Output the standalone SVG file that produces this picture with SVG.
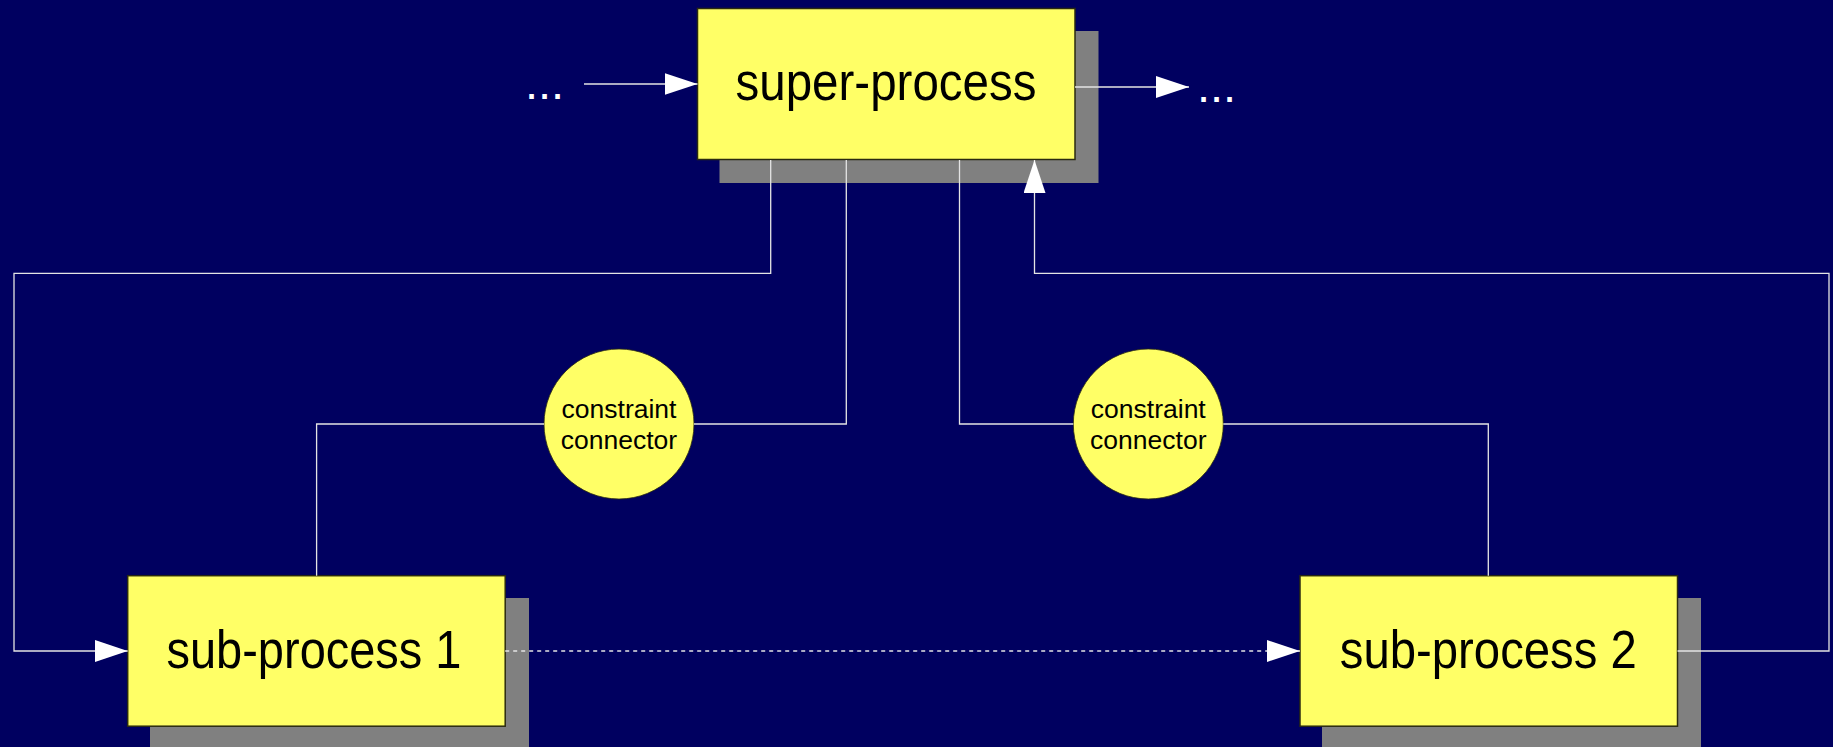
<svg xmlns="http://www.w3.org/2000/svg" width="1833" height="747" viewBox="0 0 1833 747">
  <style>
    .shadow { fill: #808080; }
    .box { fill: #ffff66; stroke: #2a2a10; stroke-width: 1.5; }
    .circle { fill: #ffff66; stroke: #2a2a10; stroke-width: 0.8; }
    .label { font-family: "Liberation Sans", Arial, sans-serif; font-size: 54px; fill: #000; text-anchor: middle; }
    .small { font-family: "Liberation Sans", Arial, sans-serif; font-size: 26.5px; fill: #000; text-anchor: middle; }
    .dots { font-family: "Liberation Sans", Arial, sans-serif; font-size: 47px; fill: #fff; }
    .wire { fill: none; stroke: #e4e4e4; stroke-width: 1.3; }
    .arrow { marker-end: url(#head); }
    .dashed { stroke-dasharray: 4 4; }
  </style>
  <defs>
    <marker id="head" viewBox="0 0 33 22" refX="33" refY="11" markerWidth="33" markerHeight="22" markerUnits="userSpaceOnUse" orient="auto">
      <path d="M0,0 L33,11 L0,22 Z" fill="#ffffff"/>
    </marker>
  </defs>

  <rect width="1833" height="747" fill="#000060"/>

  <!-- top-level process -->
  <g id="super-process">
    <rect class="shadow" x="719.5" y="31" width="379" height="152"/>
    <rect class="box" x="697.5" y="8.5" width="377.5" height="151"/>
    <text class="label" x="886" y="100" textLength="301" lengthAdjust="spacingAndGlyphs">super-process</text>
  </g>

  <!-- open ends of the flow -->
  <g id="input-dots">
    <text class="dots" x="525" y="99">...</text>
  </g>
  <g id="output-dots">
    <text class="dots" x="1197" y="101.5">...</text>
  </g>

  <g id="constraint-1">
    <circle class="circle" cx="619" cy="424" r="75"/>
    <text class="small" x="619" y="418">constraint</text>
    <text class="small" x="619" y="449">connector</text>
  </g>

  <g id="constraint-2">
    <circle class="circle" cx="1148.3" cy="424" r="75"/>
    <text class="small" x="1148.3" y="418">constraint</text>
    <text class="small" x="1148.3" y="449">connector</text>
  </g>

  <g id="sub-process-1">
    <rect class="shadow" x="150" y="598" width="379" height="152"/>
    <rect class="box" x="127.7" y="575.7" width="377.5" height="150.5"/>
    <text class="label" x="314" y="668" textLength="295" lengthAdjust="spacingAndGlyphs">sub-process 1</text>
  </g>

  <g id="sub-process-2">
    <rect class="shadow" x="1322" y="598" width="379" height="152"/>
    <rect class="box" x="1300" y="575.7" width="377.5" height="150.5"/>
    <text class="label" x="1488.3" y="668" textLength="297" lengthAdjust="spacingAndGlyphs">sub-process 2</text>
  </g>

  <!-- connectors -->
  <g id="connectors">
    <path class="wire arrow" d="M584,84 L697.5,84"/>
    <path class="wire arrow" d="M1075,87 L1189,87"/>
    <path class="wire arrow" d="M770.7,160 L770.7,273.3 L14,273.3 L14,651 L127.7,651"/>
    <path class="wire" d="M846.3,160 L846.3,424 L694,424"/>
    <path class="wire" d="M544,424 L316.6,424 L316.6,575.7"/>
    <path class="wire" d="M959.5,160 L959.5,424 L1073.3,424"/>
    <path class="wire" d="M1223.3,424 L1488.3,424 L1488.3,575.7"/>
    <path class="wire arrow" d="M1677.5,651 L1829,651 L1829,273.3 L1034.5,273.3 L1034.5,160"/>
    <path class="wire dashed arrow" d="M505.2,651 L1300,651"/>
  </g>
</svg>
